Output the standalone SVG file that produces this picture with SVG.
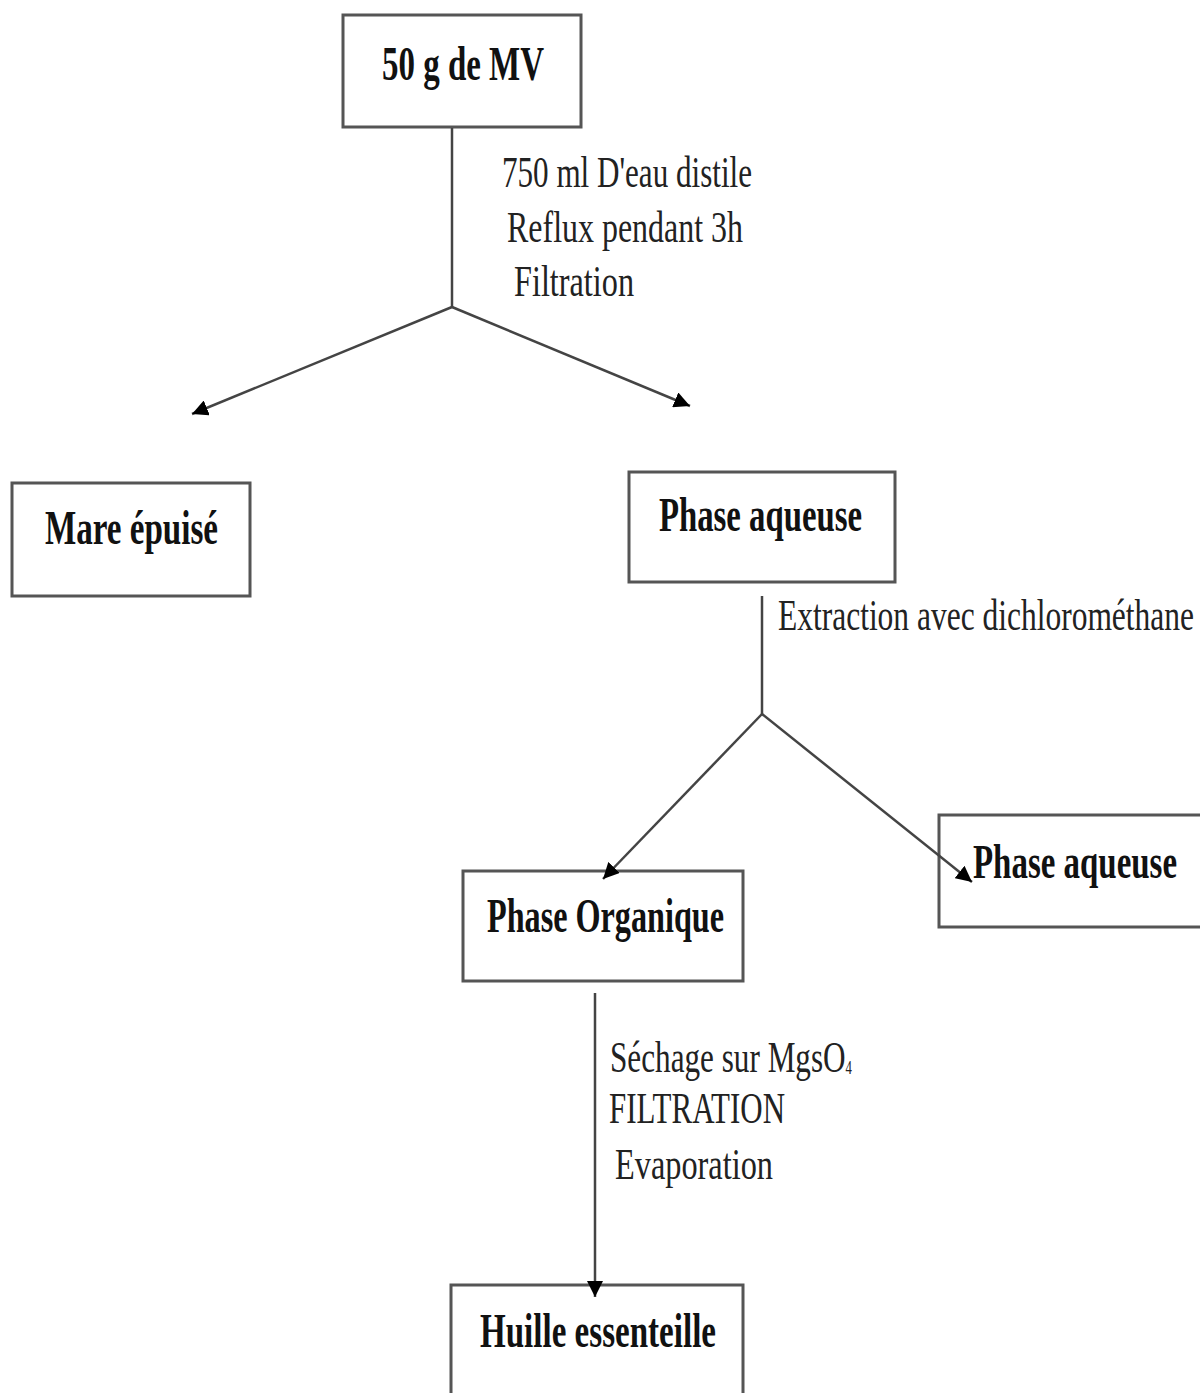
<svg xmlns="http://www.w3.org/2000/svg" width="1200" height="1393" viewBox="0 0 1200 1393">
<style>
.box{fill:#fff;stroke:#555;stroke-width:3}
.nt{font-family:"Liberation Serif","Times New Roman",serif;font-weight:bold;font-size:48px;fill:#111}
.lt{font-family:"Liberation Serif","Times New Roman",serif;font-size:44px;fill:#222}
.sub{font-size:18px}
.cn{stroke:#444;stroke-width:2.5;fill:none}
</style>
<defs>
<marker id="ah" markerUnits="userSpaceOnUse" markerWidth="18" markerHeight="16" refX="16" refY="8" orient="auto">
<path d="M0,0 L16,8 L0,16 Z" fill="#000"/>
</marker>
</defs>
<rect width="1200" height="1393" fill="#fff"/>
<g id="n1"><rect class="box" x="343" y="15" width="238" height="112"/><text class="nt" x="382" y="80" textLength="162" lengthAdjust="spacingAndGlyphs">50 g de MV</text></g>
<g id="n2"><rect class="box" x="12" y="483" width="238" height="113"/><text class="nt" x="45" y="544" textLength="173" lengthAdjust="spacingAndGlyphs">Mare épuisé</text></g>
<g id="n3"><rect class="box" x="629" y="472" width="266" height="110"/><text class="nt" x="659" y="531" textLength="203" lengthAdjust="spacingAndGlyphs">Phase aqueuse</text></g>
<g id="n4"><rect class="box" x="463" y="871" width="280" height="110"/><text class="nt" x="487" y="932" textLength="237" lengthAdjust="spacingAndGlyphs">Phase Organique</text></g>
<g id="n5"><rect class="box" x="939" y="815" width="266" height="112"/><text class="nt" x="973" y="878" textLength="204" lengthAdjust="spacingAndGlyphs">Phase aqueuse</text></g>
<g id="n6"><rect class="box" x="451" y="1285" width="292" height="120"/><text class="nt" x="480" y="1347" textLength="236" lengthAdjust="spacingAndGlyphs">Huille essenteille</text></g>
<g id="connectors">
<path class="cn" d="M452,128 L452,307"/>
<path class="cn" d="M452,307 L192,414" marker-end="url(#ah)"/>
<path class="cn" d="M452,307 L690,406" marker-end="url(#ah)"/>
<path class="cn" d="M762,596 L762,714"/>
<path class="cn" d="M762,714 L603,879" marker-end="url(#ah)"/>
<path class="cn" d="M762,714 L972,882" marker-end="url(#ah)"/>
<path class="cn" d="M595,993 L595,1297" marker-end="url(#ah)"/>
</g>
<g id="labels">
<text class="lt" x="502" y="187" textLength="250" lengthAdjust="spacingAndGlyphs">750 ml D'eau distile</text>
<text class="lt" x="507" y="242" textLength="236" lengthAdjust="spacingAndGlyphs">Reflux pendant 3h</text>
<text class="lt" x="514" y="296" textLength="120" lengthAdjust="spacingAndGlyphs">Filtration</text>
<text class="lt" x="778" y="630" textLength="416" lengthAdjust="spacingAndGlyphs">Extraction avec dichlorométhane</text>
<text class="lt" x="610" y="1072" textLength="242" lengthAdjust="spacingAndGlyphs">Séchage sur MgsO<tspan class="sub" dy="2">4</tspan></text>
<text class="lt" x="609" y="1123" textLength="176" lengthAdjust="spacingAndGlyphs">FILTRATION</text>
<text class="lt" x="615" y="1179" textLength="158" lengthAdjust="spacingAndGlyphs">Evaporation</text>
</g>
</svg>
